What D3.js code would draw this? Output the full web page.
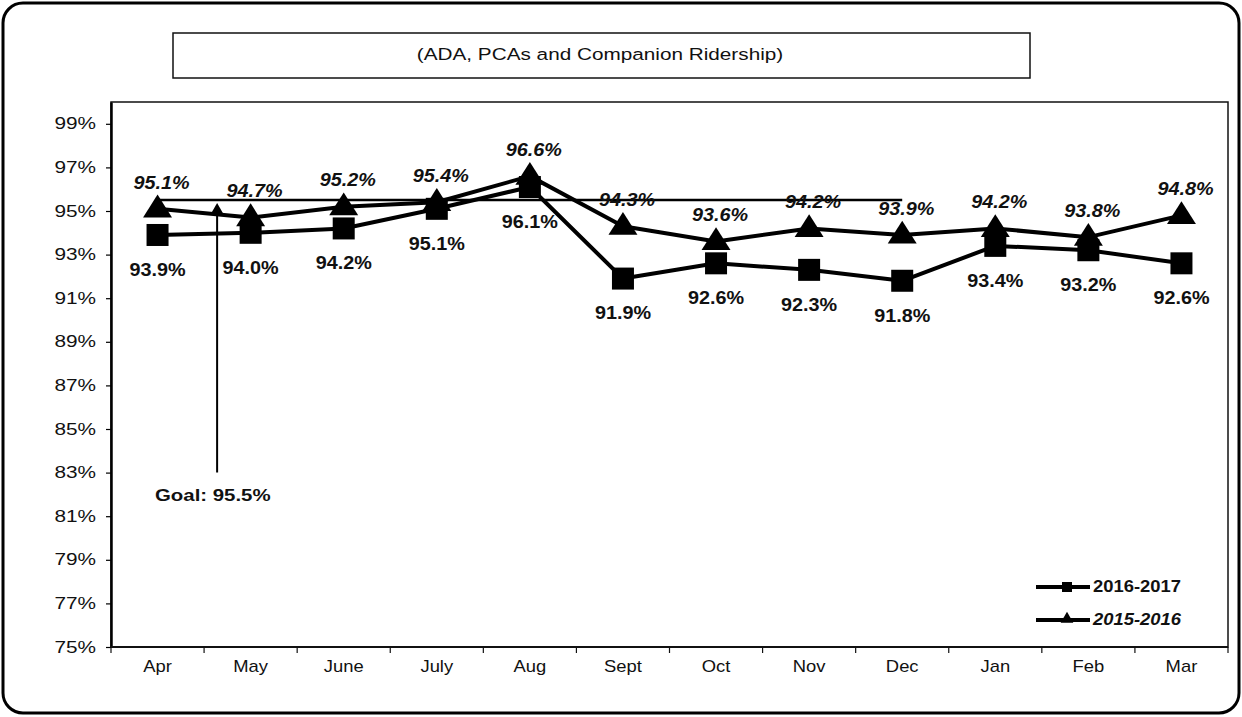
<!DOCTYPE html>
<html>
<head>
<meta charset="utf-8">
<script src="https://cdn.jsdelivr.net/npm/d3@7"></script>
<style>
  body { margin: 0; background: #fff; }
  svg text { font-family: Arial, "Liberation Sans", sans-serif; fill: #111; }
</style>
</head>
<body>
<svg id="drawing_region"></svg>
<script>
const months = ['Apr','May','June','July','Aug','Sept','Oct','Nov','Dec','Jan','Feb','Mar'];
const fy2017 = [93.9, 94.0, 94.2, 95.1, 96.1, 91.9, 92.6, 92.3, 91.8, 93.4, 93.2, 92.6];
const fy2016 = [95.1, 94.7, 95.2, 95.4, 96.6, 94.3, 93.6, 94.2, 93.9, 94.2, 93.8, 94.8];
const goal = 95.5;
const goalMonths = ['Apr','Dec'];
const yTicks = [75,77,79,81,83,85,87,89,91,93,95,97,99];
const seriesNames = ['2016-2017','2015-2016'];
const title = '(ADA, PCAs and Companion Ridership)';

const config = {
    width: 1242,
    height: 717,
    margin: {top:102, right:14, bottom:70, left:111}
};

// the scanned original is a little wider than tall, so text is stretched sideways
function place(sel, x, y, sx) {
    return sel.attr('x', 0).attr('y', 0)
        .attr('transform', `translate(${x}, ${y}) scale(${sx}, 1)`);
}

const svg = d3.select('#drawing_region')
    .attr('width', config.width)
    .attr('height', config.height);

// outer rounded frame
svg.append('rect')
    .attr('x', 3).attr('y', 3)
    .attr('width', config.width - 6).attr('height', config.height - 7)
    .attr('rx', 20)
    .attr('fill', 'none').attr('stroke', '#000').attr('stroke-width', 3);

// title box
svg.append('rect')
    .attr('x', 173).attr('y', 33).attr('width', 857).attr('height', 45)
    .attr('fill', 'none').attr('stroke', '#111').attr('stroke-width', 1.5);
place(svg.append('text'), 600, 56, 1.22)
    .attr('text-anchor', 'middle').attr('dominant-baseline', 'middle')
    .style('font-size', '17px')
    .text(title);

const innerW = config.width - config.margin.left - config.margin.right;
const innerH = config.height - config.margin.top - config.margin.bottom;

const chart = svg.append('g')
    .attr('transform', `translate(${config.margin.left}, ${config.margin.top})`);

const xscale = d3.scaleBand().domain(months).range([0, innerW]);
const yscale = d3.scaleLinear().domain([75, 100]).range([innerH, 0]);
const cx = m => xscale(m) + xscale.bandwidth() / 2;

// plot frame
chart.append('rect')
    .attr('width', innerW).attr('height', innerH)
    .attr('fill', 'none').attr('stroke', '#111').attr('stroke-width', 1.5);

// y axis
const yaxis = d3.axisLeft(yscale)
    .tickValues(yTicks)
    .tickFormat(d => d + '%')
    .tickSize(5)
    .tickSizeOuter(0);
const yg = chart.append('g').call(yaxis);
yg.select('.domain').attr('stroke-width', 2.5);
yg.selectAll('.tick line').attr('stroke-width', 1.2);
yg.selectAll('.tick text')
    .attr('x', -15 / 1.3)
    .attr('transform', 'scale(1.3, 1)')
    .style('font-size', '16px')
    .style('font-family', 'Arial, "Liberation Sans", sans-serif')
    .attr('fill', '#111');

// x axis: ticks at band edges
const xg = chart.append('g').attr('transform', `translate(0, ${innerH})`);
xg.append('line').attr('x1', 0).attr('x2', innerW)
    .attr('stroke', '#111').attr('stroke-width', 2);
xg.selectAll('.edge')
    .data(d3.range(months.length + 1))
    .join('line')
    .attr('x1', i => i * xscale.bandwidth()).attr('x2', i => i * xscale.bandwidth())
    .attr('y1', 0).attr('y2', 6)
    .attr('stroke', '#111').attr('stroke-width', 1.2);
xg.selectAll('.mlabel')
    .data(months)
    .join('text')
    .each(function(d) { place(d3.select(this), cx(d), 21, 1.15); })
    .attr('text-anchor', 'middle').attr('dominant-baseline', 'middle')
    .style('font-size', '16px')
    .text(d => d);

// goal line
chart.append('line')
    .attr('x1', cx(goalMonths[0])).attr('x2', cx(goalMonths[1]))
    .attr('y1', yscale(goal)).attr('y2', yscale(goal))
    .attr('stroke', '#000').attr('stroke-width', 2.5);

// goal annotation arrow
const arrowX = xscale('Apr') + xscale.bandwidth() * 1.14;
chart.append('line')
    .attr('x1', arrowX).attr('x2', arrowX)
    .attr('y1', yscale(83)).attr('y2', yscale(95.0))
    .attr('stroke', '#000').attr('stroke-width', 2);
chart.append('path')
    .attr('d', d3.symbol().type(d3.symbolTriangle).size(60)())
    .attr('transform', `translate(${arrowX}, ${yscale(95.05)})`)
    .attr('fill', '#000');
place(chart.append('text'), xscale('Apr') + 44, yscale(81.9), 1.2)
    .attr('dominant-baseline', 'middle')
    .style('font-size', '17px').style('font-weight', 'bold')
    .text(`Goal: ${goal}%`);

// series lines
const line = d3.line().x((d, i) => cx(months[i])).y(d => yscale(d));

chart.append('path').datum(fy2017)
    .attr('d', line).attr('fill', 'none')
    .attr('stroke', '#000').attr('stroke-width', 4).attr('stroke-linejoin', 'round');
chart.append('path').datum(fy2016)
    .attr('d', line).attr('fill', 'none')
    .attr('stroke', '#000').attr('stroke-width', 4).attr('stroke-linejoin', 'round');

// markers
chart.selectAll('.sq')
    .data(fy2017)
    .join('rect')
    .attr('x', (d, i) => cx(months[i]) - 11).attr('y', d => yscale(d) - 11)
    .attr('width', 22).attr('height', 22)
    .attr('fill', '#000');

const tri = d3.symbol().type(d3.symbolTriangle).size(300);
chart.selectAll('.tri')
    .data(fy2016)
    .join('path')
    .attr('d', tri())
    .attr('transform', (d, i) => `translate(${cx(months[i])}, ${yscale(d) + 1}) scale(1.1, 1)`)
    .attr('fill', '#000');

// data labels
chart.selectAll('.lab17')
    .data(fy2017)
    .join('text')
    .each(function(d, i) { place(d3.select(this), cx(months[i]), yscale(d) + 36, 1.1); })
    .attr('text-anchor', 'middle').attr('dominant-baseline', 'middle')
    .style('font-size', '18px').style('font-weight', 'bold')
    .text(d => d.toFixed(1) + '%');

chart.selectAll('.lab16')
    .data(fy2016)
    .join('text')
    .each(function(d, i) { place(d3.select(this), cx(months[i]) + 4, yscale(d) - 25, 1.1); })
    .attr('text-anchor', 'middle').attr('dominant-baseline', 'middle')
    .style('font-size', '18px').style('font-weight', 'bold').style('font-style', 'italic')
    .text(d => d.toFixed(1) + '%');

// legend
const legend = svg.append('g').attr('transform', 'translate(1036, 587)');
const items = legend.selectAll('g')
    .data(seriesNames)
    .join('g')
    .attr('transform', (d, i) => `translate(0, ${i * 33})`);
items.append('line')
    .attr('x1', 0).attr('x2', 54)
    .attr('stroke', '#000').attr('stroke-width', 4);
items.filter((d, i) => i === 0).append('rect')
    .attr('x', 26).attr('y', -5).attr('width', 10).attr('height', 10)
    .attr('fill', '#000');
items.filter((d, i) => i === 1).append('path')
    .attr('d', d3.symbol().type(d3.symbolTriangle).size(70)())
    .attr('transform', 'translate(31, -1)')
    .attr('fill', '#000');
items.append('text')
    .each(function() { place(d3.select(this), 57, 1, 1.15); })
    .attr('dominant-baseline', 'middle')
    .style('font-size', '16px').style('font-weight', 'bold')
    .style('font-style', (d, i) => i === 1 ? 'italic' : 'normal')
    .text(d => d);
</script>
</body>
</html>
